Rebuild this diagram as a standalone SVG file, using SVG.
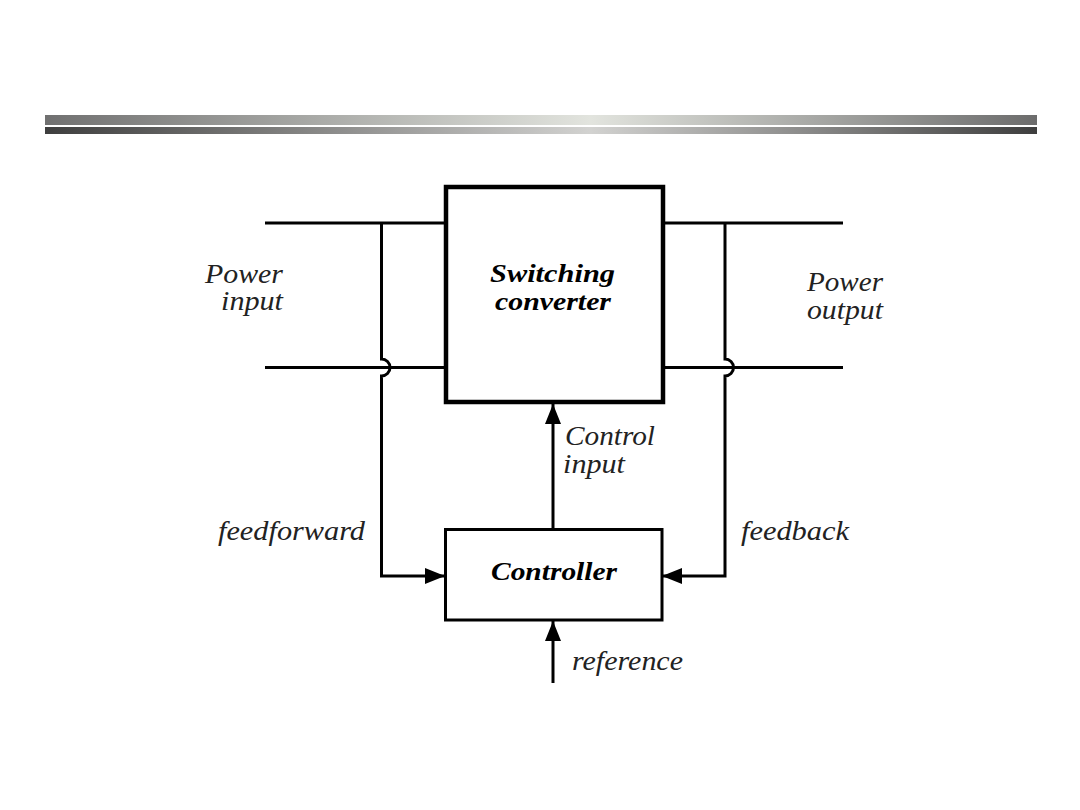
<svg xmlns="http://www.w3.org/2000/svg" width="1080" height="810" viewBox="0 0 1080 810">
<style>
.ln{fill:none;stroke:#000;stroke-width:3}
.lbl{font-family:'Liberation Serif','Times New Roman','DejaVu Serif',serif;font-style:italic;font-size:27px;fill:#222}
.bold{font-family:'Liberation Serif','Times New Roman','DejaVu Serif',serif;font-style:italic;font-weight:bold;font-size:26px;fill:#000}
</style>
<defs>
<linearGradient id="g1" x1="0" x2="1" y1="0" y2="0">
<stop offset="0" stop-color="#707070"/>
<stop offset="0.55" stop-color="#e2e4de"/>
<stop offset="1" stop-color="#6c6c6c"/>
</linearGradient>
<linearGradient id="g2" x1="0" x2="1" y1="0" y2="0">
<stop offset="0" stop-color="#3e3e3e"/>
<stop offset="0.55" stop-color="#d2d2d0"/>
<stop offset="1" stop-color="#3e3e3e"/>
</linearGradient>
<marker id="ah" viewBox="0 0 20 16" refX="20" refY="8" markerWidth="20" markerHeight="16" markerUnits="userSpaceOnUse" orient="auto">
<path d="M0,0 L20,8 L0,16 Z" fill="#000"/>
</marker>
</defs>
<rect width="1080" height="810" fill="#fff"/>
<rect x="45" y="115" width="992" height="10" fill="url(#g1)"/>
<rect x="45" y="127" width="992" height="7" fill="url(#g2)"/>
<g id="connectors">
<path class="ln" d="M265,223 H446"/>
<path class="ln" d="M265,367.5 H446"/>
<path class="ln" d="M663,223 H843"/>
<path class="ln" d="M663,367.5 H843"/>
<path class="ln" d="M381.5,223 V359 A8.5,8.5 0 0 1 381.5,376 V576 H445" marker-end="url(#ah)"/>
<path class="ln" d="M725,223 V359 A8.5,8.5 0 0 1 725,376 V576 H662" marker-end="url(#ah)"/>
<path class="ln" d="M553,529 V404" marker-end="url(#ah)"/>
<path class="ln" d="M553,683 V621" marker-end="url(#ah)"/>
</g>
<g id="converter">
<rect x="446" y="187" width="217" height="215" fill="#fff" stroke="#000" stroke-width="4.5"/>
<text class="bold" x="490" y="282" textLength="125" lengthAdjust="spacingAndGlyphs">Switching</text>
<text class="bold" x="495" y="310" textLength="116" lengthAdjust="spacingAndGlyphs">converter</text>
</g>
<g id="controller">
<rect x="445.5" y="529.5" width="216.5" height="90.5" fill="#fff" stroke="#000" stroke-width="3"/>
<text class="bold" x="491" y="580" textLength="126" lengthAdjust="spacingAndGlyphs">Controller</text>
</g>
<g id="labels">
<text class="lbl" x="205" y="283" textLength="78" lengthAdjust="spacingAndGlyphs">Power</text>
<text class="lbl" x="221" y="310" textLength="62" lengthAdjust="spacingAndGlyphs">input</text>
<text class="lbl" x="807" y="291" textLength="76" lengthAdjust="spacingAndGlyphs">Power</text>
<text class="lbl" x="807" y="319" textLength="76" lengthAdjust="spacingAndGlyphs">output</text>
<text class="lbl" x="565" y="445" textLength="90" lengthAdjust="spacingAndGlyphs">Control</text>
<text class="lbl" x="563" y="473" textLength="62" lengthAdjust="spacingAndGlyphs">input</text>
<text class="lbl" x="218" y="540" textLength="147" lengthAdjust="spacingAndGlyphs">feedforward</text>
<text class="lbl" x="741" y="540" textLength="108" lengthAdjust="spacingAndGlyphs">feedback</text>
<text class="lbl" x="572" y="670" textLength="111" lengthAdjust="spacingAndGlyphs">reference</text>
</g>
</svg>
